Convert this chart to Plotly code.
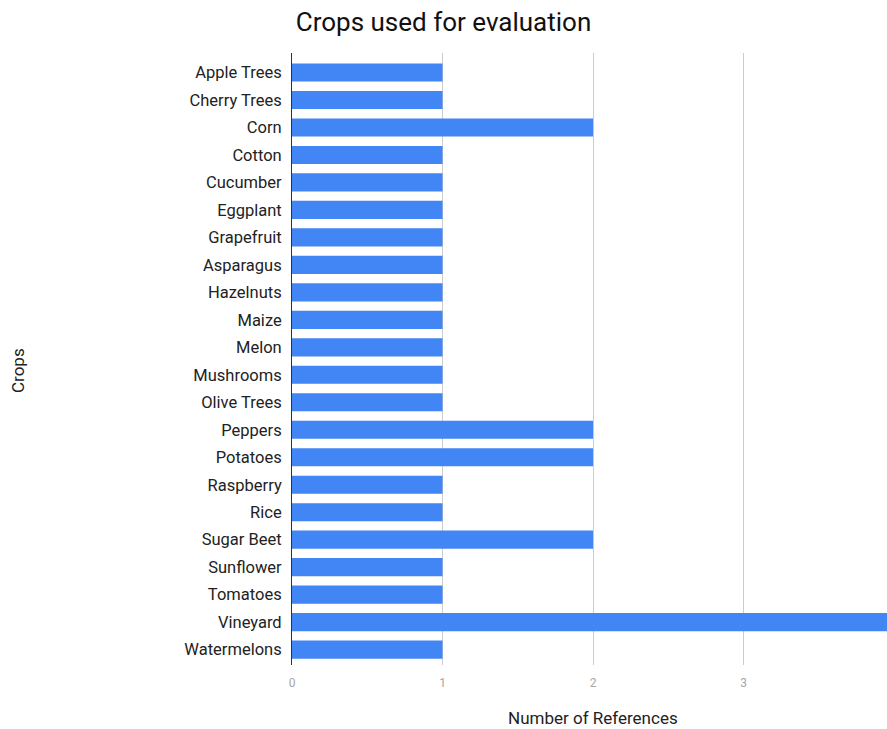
import plotly.graph_objects as go

crops = [
    "Apple Trees", "Cherry Trees", "Corn", "Cotton", "Cucumber", "Eggplant",
    "Grapefruit", "Asparagus", "Hazelnuts", "Maize", "Melon", "Mushrooms",
    "Olive Trees", "Peppers", "Potatoes", "Raspberry", "Rice", "Sugar Beet",
    "Sunflower", "Tomatoes", "Vineyard", "Watermelons",
]
references = [1, 1, 2, 1, 1, 1, 1, 1, 1, 1, 1, 1, 1, 2, 2, 1, 1, 2, 1, 1, 4, 1]
x_ticks = [0, 1, 2, 3]

fig = go.Figure(
    go.Bar(
        x=references,
        y=crops,
        orientation="h",
        marker=dict(color="#4285F4", line=dict(width=0)),
        width=0.66,
    )
)

fig.update_layout(
    width=887,
    height=729,
    margin=dict(l=292, r=0, t=53, b=64),
    paper_bgcolor="white",
    plot_bgcolor="white",
    font=dict(family="Roboto", color="#222222"),
    showlegend=False,
    title=dict(
        text="Crops used for evaluation",
        x=0.5,
        xref="container",
        xanchor="center",
        y=1 - 22 / 729,
        yref="container",
        yanchor="middle",
        font=dict(family="Roboto", size=26, color="#111111"),
    ),
)

fig.update_xaxes(
    range=[0, 3.953],
    tickvals=x_ticks,
    ticktext=[str(t) for t in x_ticks],
    showgrid=True,
    gridcolor="#cccccc",
    gridwidth=1,
    zeroline=False,
    showline=False,
    ticks="",
    ticklabelstandoff=9,
    tickfont=dict(family="Roboto", size=12, color="#a6a6a6"),
)
fig.update_yaxes(
    categoryorder="array",
    categoryarray=crops,
    range=[21.56, -0.71],
    showgrid=False,
    showline=True,
    linecolor="#333333",
    linewidth=1,
    ticks="",
    ticklabelstandoff=6,
    tickfont=dict(family="Roboto", size=16.5, color="#222222"),
)

fig.add_annotation(
    text="Number of References",
    xref="paper", yref="paper",
    x=(593 - 292) / 595, y=-53 / 612,
    xanchor="center", yanchor="middle",
    showarrow=False,
    borderpad=0,
    font=dict(family="Roboto", size=17, color="#222222"),
)
fig.add_annotation(
    text="Crops",
    xref="paper", yref="paper",
    x=-274 / 595, y=(665 - 371) / 612,
    xanchor="center", yanchor="middle",
    textangle=-90,
    showarrow=False,
    font=dict(family="Roboto", size=17, color="#222222"),
)

fig.write_html("out.html")
